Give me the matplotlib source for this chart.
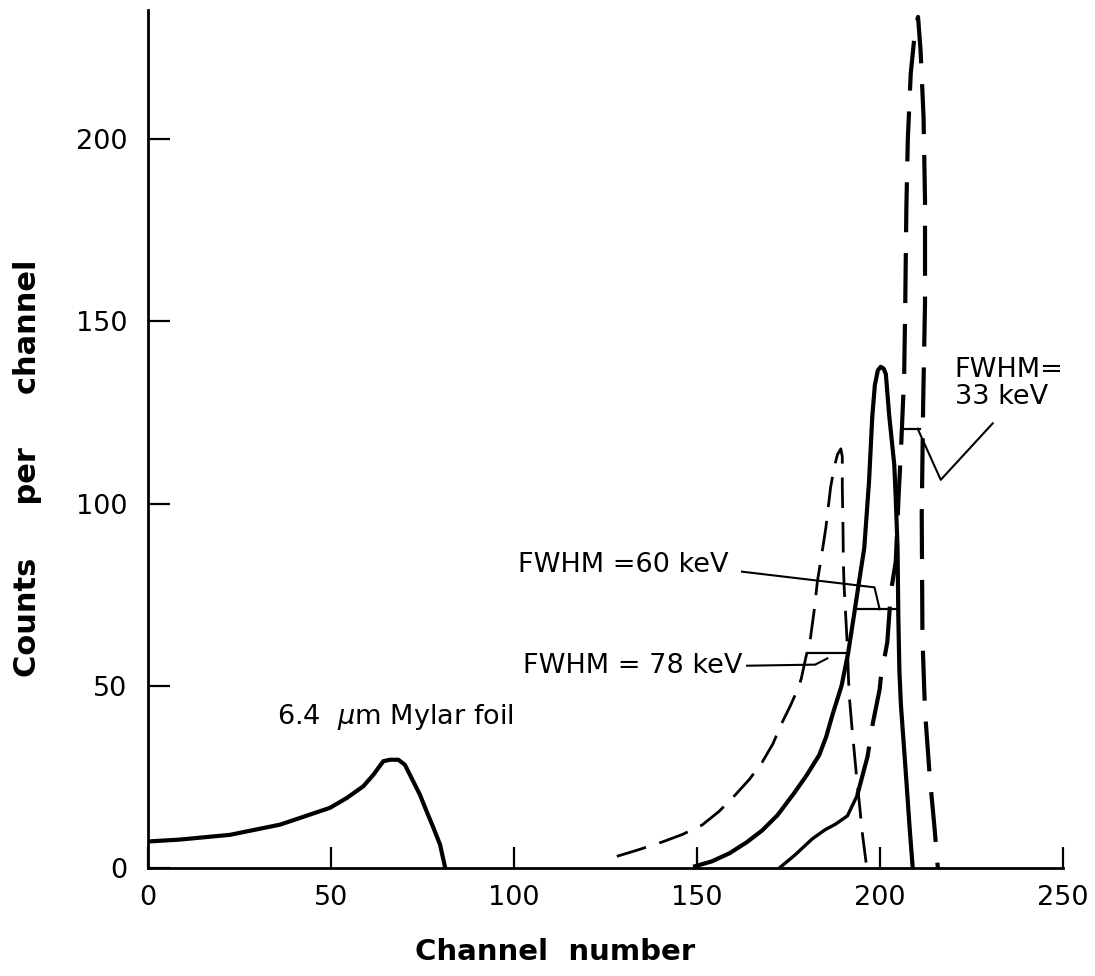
import numpy as np
import matplotlib
matplotlib.use("Agg")
from matplotlib import pyplot as plt

# spectra (channel, counts per channel)
mylar_x = [0.5, 8.7, 22.4, 36.1, 49.7, 54.3, 58.8, 61.6, 62.9, 64.3, 66.1, 68.4, 70.2,
           72.0, 74.3, 76.1, 78.0, 79.8, 81.1]
mylar_y = [7.3, 7.8, 9.1, 11.9, 16.5, 19.2, 22.4, 25.6, 27.4, 29.3, 29.7, 29.7, 28.3,
           24.7, 20.1, 15.6, 11.0, 6.4, 0.5]

kev78_x = [128.1, 134.0, 140.4, 146.0, 151.4, 156.0, 160.4, 164.3, 167.8, 170.7, 173.3, 175.5,
           177.5, 178.5, 179.7, 181.0, 182.0, 182.9, 183.8, 185.2, 186.5, 187.5, 188.4, 189.3,
           189.7, 189.7, 189.9, 190.0, 190.2, 190.6, 191.1, 191.4, 191.7, 192.3, 192.9, 193.6,
           194.4, 195.2, 196.2]
kev78_y = [3.2, 5.0, 7.1, 9.2, 11.8, 15.5, 20.0, 24.3, 29.0, 34.0, 40.0, 44.5,
           49.0, 52.0, 57.6, 63.1, 70.5, 78.7, 84.2, 93.3, 104.4, 110.0, 113.5, 115.0,
           112.8, 104.5, 92.7, 83.4, 77.1, 69.7, 60.6, 51.6, 46.1, 39.0, 32.6, 25.0,
           17.4, 9.3, 1.5]

kev60_x = [149.5, 154.0, 158.8, 163.5, 167.8, 172.0, 176.5, 180.0, 183.4, 185.3, 187.0, 189.5,
           191.3, 192.9, 194.3, 195.7, 197.0, 197.9, 198.6, 199.4, 200.2, 201.0, 201.6, 202.5,
           203.9, 204.3, 204.8, 205.0, 205.3, 205.7, 206.2, 207.2, 208.1, 208.9]
kev60_y = [0.5, 1.8, 4.0, 7.0, 10.3, 14.5, 20.5, 25.5, 31.0, 36.0, 42.0, 50.0,
           59.0, 69.4, 78.7, 87.8, 106.0, 124.0, 132.5, 136.5, 137.5, 137.0, 135.5, 124.3,
           110.6, 101.5, 87.8, 69.4, 54.0, 45.0, 38.0, 24.0, 11.0, 0.5]

# 33 keV peak: solid foot, then dashed
kev33_foot_x = [172.5, 176.8, 181.5, 185.0, 187.8, 191.1, 193.8]
kev33_foot_y = [0, 3.6, 8.0, 10.5, 12.0, 14.3, 20.0]
kev33_x = [193.8, 196.6, 197.9, 199.9, 200.2, 202.0, 203.0, 204.3, 205.1, 205.7, 206.6, 206.9,
           207.2, 207.6, 208.4, 209.7, 210.4, 211.1, 211.9, 212.3, 212.3, 211.8, 211.4, 211.6,
           212.3, 213.6, 214.9, 215.8]
kev33_y = [20.0, 30.6, 39.0, 49.0, 52.0, 62.0, 76.0, 84.0, 102.5, 114.0, 135.0, 155.0,
           181.0, 200.0, 218.0, 231.0, 233.5, 224.0, 206.0, 183.0, 155.0, 128.0, 97.0, 63.0,
           43.0, 25.0, 11.0, 0.0]

x_ticks = [0, 50, 100, 150, 200, 250]
y_ticks = [0, 50, 100, 150, 200]

# FWHM bar levels as drawn
bar78_level = 59.0
bar60_level = 71.0
bar33_level = 120.5

# label leader lines (data coords)
lead60_x = [162.3, 198.5, 199.9]
lead60_y = [81.3, 77.0, 71.0]
lead78_x = [163.7, 182.3, 185.6]
lead78_y = [55.5, 55.8, 57.5]
lead33_x = [210.3, 216.6, 230.8]
lead33_y = [120.5, 106.5, 122.0]


def bar_ends(xs, ys, level, stop_x=None):
    xs = np.asarray(xs)
    ys = np.asarray(ys)
    k = int(np.argmax(ys))
    left = np.interp(level, ys[:k + 1], xs[:k + 1])
    right = np.interp(level, ys[k:][::-1], xs[k:][::-1])
    if stop_x is not None:
        right = min(right, stop_x)
    return left, right


fig = plt.figure(figsize=(10.95, 9.76), dpi=100)
ax = fig.add_axes([148 / 1095, 108 / 976, 915 / 1095, 858 / 976])
ax.set_xlim(0, 250)
ax.set_ylim(0, 235.4)

ink = "black"
ax.plot(mylar_x, mylar_y, color=ink, lw=3, solid_joinstyle="round")
ax.plot(kev78_x, kev78_y, color=ink, lw=2, dashes=(11, 5))
ax.plot(kev60_x, kev60_y, color=ink, lw=3, solid_joinstyle="round")
ax.plot(kev33_foot_x, kev33_foot_y, color=ink, lw=2.4, solid_joinstyle="round")
ax.plot(kev33_x, kev33_y, color=ink, lw=3, dashes=(12, 5))

# half maximum bars
for xs, ys, lev, stop in [(kev78_x, kev78_y, bar78_level, None),
                          (kev60_x, kev60_y, bar60_level, None),
                          (kev33_x, kev33_y, bar33_level, 210.8)]:
    l, r = bar_ends(xs, ys, lev, stop)
    ax.plot([l, r], [lev, lev], color=ink, lw=1.6)

ax.plot(lead60_x, lead60_y, color=ink, lw=1.5)
ax.plot(lead78_x, lead78_y, color=ink, lw=1.5)
ax.plot(lead33_x, lead33_y, color=ink, lw=1.5)

fs = 19.5
ax.text(101.2, 83, "FWHM =60 keV", fontsize=fs, va="center", ha="left")
ax.text(102.5, 55.5, "FWHM = 78 keV", fontsize=fs, va="center", ha="left")
ax.text(220.4, 133, "FWHM=\n33 keV", fontsize=fs, va="center", ha="left", linespacing=1.05)
ax.text(35.2, 41.5, "6.4  $\\mu$m Mylar foil", fontsize=fs, va="center", ha="left")

for s in ["top", "right"]:
    ax.spines[s].set_visible(False)
for s in ["left", "bottom"]:
    ax.spines[s].set_linewidth(2)

ax.set_xticks(x_ticks)
ax.set_yticks(y_ticks)
ax.tick_params(axis="both", direction="in", width=1.6, labelsize=fs)
ax.tick_params(axis="y", length=16, pad=15)
ax.tick_params(axis="x", length=15, pad=12)

ax.set_xlabel("Channel  number", fontsize=21, fontweight="bold")
ax.xaxis.set_label_coords((555 - 148) / 915, (868 - 938) / 858)
ax.set_ylabel("Counts     per     channel", fontsize=22, fontweight="bold")
ax.yaxis.set_label_coords((42 - 148) / 915, (868 - 468) / 858)

fig.savefig("out.png", dpi=100)
